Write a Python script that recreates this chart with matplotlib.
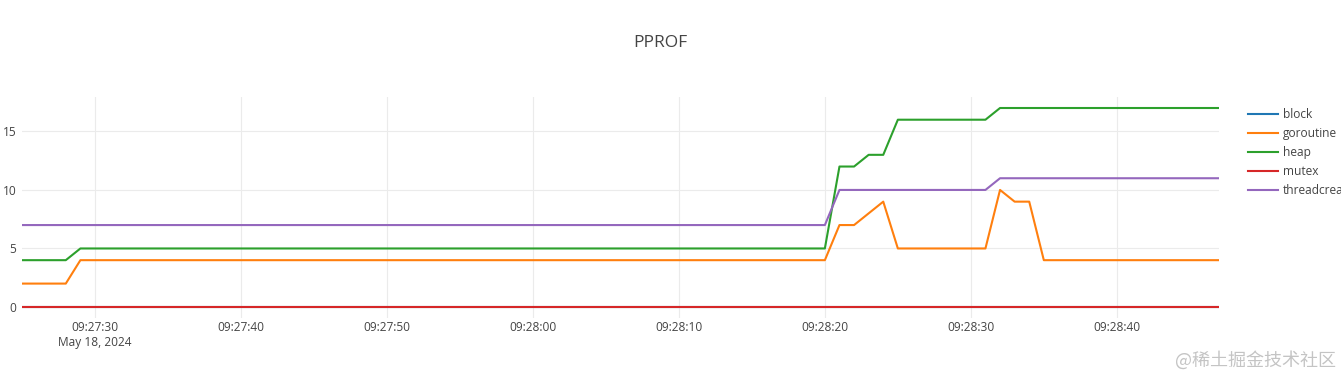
import datetime as dt
import matplotlib
matplotlib.use("Agg")
import matplotlib.pyplot as plt
import matplotlib.dates as mdates
from matplotlib.ticker import FuncFormatter

# ---- data ----
seconds = [25, 28, 29, 80, 81, 82, 83, 84, 85, 91, 92, 93, 94, 95, 107]
block = [0, 0, 0, 0, 0, 0, 0, 0, 0, 0, 0, 0, 0, 0, 0]
goroutine = [2, 2, 4, 4, 7, 7, 8, 9, 5, 5, 10, 9, 9, 4, 4]
heap = [4, 4, 5, 5, 12, 12, 13, 13, 16, 16, 17, 17, 17, 17, 17]
mutex = [0, 0, 0, 0, 0, 0, 0, 0, 0, 0, 0, 0, 0, 0, 0]
threadcreate = [7, 7, 7, 7, 10, 10, 10, 10, 10, 10, 11, 11, 11, 11, 11]
series_names = ["block", "goroutine", "heap", "mutex", "threadcreate"]
series_values = [block, goroutine, heap, mutex, threadcreate]
colors = ["#1f77b4", "#ff7f0e", "#2ca02c", "#d62728", "#9467bd"]

base = dt.datetime(2024, 5, 18, 9, 27, 0)
times = [base + dt.timedelta(seconds=s) for s in seconds]

plt.rcParams['font.family'] = ['Open Sans', 'DejaVu Sans']

W, H = 1341, 379
fig = plt.figure(figsize=(W / 100, H / 100), dpi=100)
ax = fig.add_axes([22 / W, 1 - 318 / H, (1219 - 22) / W, (318 - 97) / H])

for name, vals, c in zip(series_names, series_values, colors):
    ax.plot(times, vals, color=c, lw=1.5, label=name, solid_joinstyle='round')

ax.set_xlim(times[0], times[-1])
ax.set_ylim(-0.94, 17.94)
ax.set_yticks([0, 5, 10, 15])

ax.xaxis.set_major_locator(mdates.SecondLocator(bysecond=[0, 10, 20, 30, 40, 50]))

def fmt(x, pos):
    d = mdates.num2date(x)
    s = d.strftime("%H:%M:%S")
    if pos == 0:
        s += "\n" + d.strftime("%b %d, %Y").replace(" 0", " ")
    return s
ax.xaxis.set_major_formatter(FuncFormatter(fmt))

for sp in ax.spines.values():
    sp.set_visible(False)
ax.grid(True, color="#ebebeb", lw=0.8)
ax.set_axisbelow(True)
ax.tick_params(length=0, labelsize=8.6, colors="#444444", pad=2)
ax.tick_params(axis='y', pad=4)

fig.text(660 / W, 1 - 43 / H, "PPROF", ha="center", va="center",
         fontsize=12.5, color="#444444")

leg = ax.legend(loc="upper left", bbox_to_anchor=(1248 / W, 1 - 108 / H),
                bbox_transform=fig.transFigure, frameon=False,
                fontsize=8.6, handlelength=2.5, handletextpad=0.45,
                labelspacing=0.5, borderaxespad=0, borderpad=0)
for t in leg.get_texts():
    t.set_color("#444444")

fig.text(1336 / W, 1 - 360 / H, "@稀土掘金技术社区", ha="right", va="center",
         fontsize=13, color="#c4c4c4",
         family=['Noto Sans CJK SC', 'DejaVu Sans'])

fig.savefig("out.png", dpi=100, facecolor="white")
